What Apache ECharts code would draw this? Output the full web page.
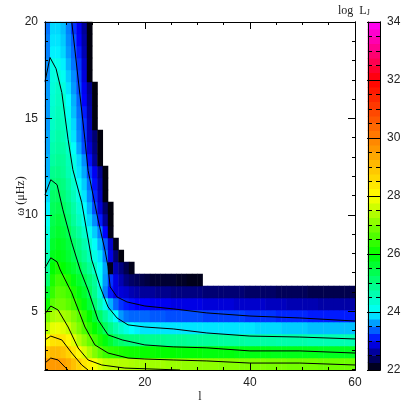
<!DOCTYPE html>
<html>
<head>
<meta charset="utf-8">
<style>
  html, body { margin: 0; padding: 0; background: #fff; }
  #main { width: 415px; height: 415px; }
</style>
<script src="https://cdn.jsdelivr.net/npm/echarts@6/dist/echarts.min.js"></script>
</head>
<body>
<div id="main"></div>
<script>
// log L per cell, bottom row first, one value per l column (missing cells stay white)
const row0 = [29.6,29.6,29.6,29.5,29.3,29,28.7,28.4,28.2,27.95,
  27.7,27.5,27.45,27.45,27.4,27.4,27.35,27.3,27.3,27.3,
  27.25,27.25,27.25,27.2,27.2,27.2,27.15,27.15,27.15,27.1,
  27.1,27.1,27.1,27.05,27.05,27.05,27.05,27,27,27,
  27,27,26.95,26.95,26.95,26.95,26.9,26.9,26.9,26.9,
  26.9,26.9,26.85,26.85,26.85,26.85,26.85,26.85,26.85]
const row1 = [28.9,29.1,29.1,28.95,28.7,28.4,28.1,27.7,27.35,27,
  26.7,26.45,26.35,26.3,26.2,26.15,26.1,26.1,26.05,26.05,
  26.05,26,26,26,26,25.95,25.95,25.95,25.95,25.95,
  25.9,25.9,25.9,25.9,25.9,25.9,25.85,25.85,25.85,25.85,
  25.85,25.85,25.85,25.8,25.8,25.8,25.8,25.8,25.8,25.8,
  25.8,25.8,25.75,25.75,25.75,25.75,25.75,25.75,25.75]
const row2 = [28.1,28.45,28.5,28.4,28.1,27.75,27.4,27.1,26.8,26.5,
  26.2,25.9,25.6,25.3,25.15,25.05,25,25,24.95,24.9,
  24.9,24.9,24.9,24.85,24.85,24.85,24.85,24.8,24.8,24.8,
  24.8,24.8,24.8,24.75,24.75,24.75,24.75,24.75,24.7,24.7,
  24.7,24.7,24.7,24.7,24.65,24.65,24.65,24.65,24.65,24.65,
  24.6,24.6,24.6,24.6,24.6,24.6,24.6,24.6,24.6]
const row3 = [27.4,27.8,27.85,27.75,27.55,27.25,26.95,26.6,26.3,26,
  25.7,25.3,24.95,24.65,24.4,24.2,24,23.95,23.9,23.9,
  23.9,23.9,23.9,23.9,23.9,23.9,23.9,23.9,23.9,23.9,
  23.9,23.9,23.9,23.9,23.9,23.9,23.9,23.9,23.9,23.9,
  23.85,23.85,23.85,23.85,23.85,23.8,23.8,23.8,23.8,23.8,
  23.75,23.75,23.75,23.75,23.75,23.75,23.75,23.75,23.75]
const row4 = [26.9,27.3,27.4,27.3,27.2,26.95,26.7,26.35,26,25.6,
  25.2,24.8,24.4,24,23.6,23.45,23.4,23.4,23.4,23.4,
  23.35,23.35,23.35,23.3,23.3,23.3,23.3,23.3,23.3,23.3,
  23.25,23.25,23.25,23.25,23.25,23.25,23.25,23.25,23.2,23.2,
  23.2,23.2,23.2,23.2,23.15,23.15,23.15,23.15,23.15,23.15,
  23.1,23.1,23.1,23.1,23.1,23.1,23.1,23.1,23.1]
const row5 = [26.1,26.7,26.85,26.85,26.7,26.5,26.2,25.9,25.55,25.1,
  24.6,24.1,23.7,23.4,23.2,23.1,23.05,23,23,23,
  22.95,22.95,22.95,22.95,22.9,22.9,22.9,22.9,22.9,22.9,
  22.85,22.85,22.85,22.85,22.85,22.85,22.8,22.8,22.8,22.8,
  22.8,22.8,22.75,22.75,22.75,22.75,22.7,22.7,22.7,22.7,
  22.7,22.7,22.65,22.65,22.65,22.65,22.65,22.65,22.65]
const row6 = [25.6,26.4,26.7,26.65,26.5,26.2,25.9,25.65,25.3,24.9,
  24.35,23.5,23.1,22.9,22.85,22.8,22.7,22.65,22.6,22.6,
  22.6,22.55,22.55,22.55,22.5,22.5,22.5,22.5,22.5,22.5,
  22.45,22.45,22.45,22.45,22.45,22.45,22.45,22.45,22.4,22.4,
  22.4,22.4,22.4,22.4,22.35,22.35,22.35,22.35,22.35,22.35,
  22.3,22.3,22.3,22.3,22.3,22.3,22.3,22.3,22.3]
const row7 = [25.1,26.2,26.5,26.4,26.2,25.9,25.65,25.4,25.1,24.8,
  24.1,23.6,23.2,22.9,22.7,22.5,22.4,22.35,22.3,22.25,
  22.2,22.2,22.2,22.2,22.2,22.15,22.15,22.1,22.1,22.1]
const row8 = [24.8,26,26.2,26,25.8,25.6,25.4,25.1,24.8,24.45,24.05,23.65,22.1,22.7,22.5,22.3,22.1]
const row9 = [24.6,25.8,25.9,25.8,25.6,25.35,25.1,24.85,24.55,24.2,23.9,23.5,22.9,22.45,22.05]
const row10 = [24.4,25.65,25.8,25.7,25.5,25.2,24.95,24.65,24.35,24.05,23.7,23.35,22.8,22.1]
const row11 = [24.25,25.5,25.65,25.55,25.35,25,24.75,24.4,24.1,23.8,23.5,23,22.1]
const row12 = [24.1,25.4,25.55,25.4,25.15,24.8,24.5,24.15,23.85,23.55,23.1,22.6,22.05]
const row13 = [23.95,25.3,25.4,25.25,25,24.7,24.35,24,23.7,23.3,22.85,22.4,22.05]
const row14 = [23.85,25.2,25.25,25.1,24.85,24.55,24.2,23.9,23.55,23.15,22.75,22.05]
const row15 = [23.8,25.05,25.1,25,24.75,24.4,24.05,23.8,23.45,23.05,22.65,22.05]
const row16 = [23.7,24.9,24.95,24.85,24.6,24.25,23.9,23.65,23.25,22.95,22.55,22.05]
const row17 = [23.7,24.75,24.85,24.8,24.55,24.2,23.85,23.55,23.05,22.6,22.05]
const row18 = [23.65,24.65,24.75,24.7,24.45,24.05,23.65,23.3,22.85,22.5,22.05]
const row19 = [23.65,24.55,24.7,24.6,24.25,23.9,23.55,23.25,22.75,22.45,22.05]
const row20 = [23.6,24.45,24.6,24.5,24.2,23.85,23.5,23.2,22.7,22.05]
const row21 = [23.6,24.4,24.55,24.45,24.1,23.75,23.45,23.1,22.65,22.05]
const row22 = [23.6,24.35,24.5,24.4,24,23.7,23.4,23,22.6,22.05]
const row23 = [23.6,24.3,24.45,24.25,23.9,23.6,23.3,22.95,22.55,22.05]
const row24 = [23.55,24.25,24.3,24.1,23.8,23.55,23.25,22.85,22.05]
const row25 = [23.55,24.2,24.15,23.95,23.7,23.45,23.2,22.8,22.05]
const row26 = [23.5,23.95,23.95,23.85,23.6,23.4,23.1,22.7,22.05]
const row27 = [23.5,23.9,23.9,23.8,23.55,23.35,23,22.65,22.05]
const row28 = [23.45,23.85,23.85,23.75,23.5,23.2,22.95,22.6,22.05]

// contour lines, [l, omega]
const contourA = [[6.1,20],[8.6,13.9],[9.2,12.3],[11.1,9.74],[12.4,8.18],[13,7.3],[13.4,6.26],[14.7,5.74],[16.6,5.48],[20,5.27],[25.4,5.12],[31.8,4.91],[40,4.75],[49.5,4.65],[60,4.49]]
const contourB = [[1,16.91],[1.95,18.16],[3.1,17.58],[4.2,16.34],[5.4,13.9],[6.3,12.34],[8,10.62],[9.9,7.66],[10.5,7.14],[11.5,6.26],[13,5.22],[14.7,4.65],[16.8,4.29],[20,4.18],[25.4,4.08],[31.8,3.87],[40,3.71],[49.5,3.66],[60,3.56]]
const contourC = [[1,11.04],[2.1,11.82],[3.3,11.56],[4.4,10.26],[6.1,8.55],[7.7,7.14],[9.2,6.1],[11.1,4.55],[13,3.77],[15.7,3.51],[20,3.25],[25.4,3.15],[31.8,3.1],[40,2.94],[49.5,2.94],[60,2.83]]
const contourD = [[1,7.25],[2.1,7.77],[3.3,7.56],[3.9,7.14],[6.1,5.95],[8.6,4.18],[10.5,3.25],[13,2.83],[16.8,2.57],[20,2.52],[25.4,2.47],[31.8,2.42],[40,2.31],[49.5,2.31],[60,2.21]]
const contourE = [[1,4.86],[1.4,5.01],[2.1,5.27],[3.5,5.06],[5.4,4.18],[7.3,3.09],[9.2,2.47],[11.8,2.21],[16.2,2.05],[26.7,1.95]]
const contourF = [[1,3.51],[2.1,3.71],[4.2,3.51],[6.1,2.83],[8,2.21],[9.2,1.95]]
const contourG = [[1,2.31],[2.1,2.57],[3.5,2.47],[4.8,2.1],[5.4,1.95]]

// colour bar bands and ticks
const barLevels = [22.125,22.375,22.625,22.875,23.125,23.375,23.625,23.875,24.125,24.375,24.625,24.875,
  25.125,25.375,25.625,25.875,26.125,26.375,26.625,26.875,27.125,27.375,27.625,27.875,
  28.125,28.375,28.625,28.875,29.125,29.375,29.625,29.875,30.125,30.375,30.625,30.875,
  31.125,31.375,31.625,31.875,32.125,32.375,32.625,32.875,33.125,33.375,33.625,33.875]
const barMajor = [22,24,26,28,30,32,34]
const barMinor = [22.5,23,23.5,24.5,25,25.5,26.5,27,27.5,28.5,29,29.5,30.5,31,31.5,32.5,33,33.5]
const barColors = ['#000000','#0000ff','#00ffff','#00ff80','#00ff00','#80ff00','#ffff00','#ffc000','#ff8000','#ff4000','#ff0000','#ff0080','#ff00ff']

const xMajor = [20,40,60]
const xMinor = [5,10,15,25,30,35,45,50,55]
const yMajor = [5,10,15,20]
const yMinor = [2,3,4,6,7,8,9,11,12,13,14,16,17,18,19]

const rows = [row0,row1,row2,row3,row4,row5,row6,row7,row8,row9,row10,row11,row12,row13,row14,
  row15,row16,row17,row18,row19,row20,row21,row22,row23,row24,row25,row26,row27,row28]

var cells = []
rows.forEach((row, r) => {
  row.forEach((v, c) => cells.push([c, r, v]))
})
var barCells = barLevels.map((v, i) => [0, i, v])

const textColor = '#222'
const sansFont = '"Liberation Sans", Arial, sans-serif'
const serifFont = '"Liberation Serif", "Times New Roman", serif'

// value axis that only carries a frame line and a set of inward ticks
function tickAxis(gridIndex, position, min, max, ticks, len, extra) {
  return Object.assign({
    type: 'value',
    gridIndex: gridIndex,
    position: position,
    min: min,
    max: max,
    z: 5,
    splitLine: { show: false },
    axisLine: { show: true, onZero: false, lineStyle: { color: '#000', width: 1 } },
    axisTick: { show: true, inside: true, length: len, customValues: ticks, lineStyle: { color: '#000', width: 1 } },
    axisLabel: { show: false }
  }, extra || {})
}

function labels(values) {
  return { show: true, customValues: values, color: textColor, fontFamily: sansFont, fontSize: 12, margin: 7 }
}

const lMin = 1, lMax = 60, wMin = 1.95, wMax = 20

var xAxes = [
  { type: 'category', gridIndex: 0, show: false, data: row0.map((_, i) => i) },
  tickAxis(0, 'bottom', lMin, lMax, xMajor, 7, {
    axisLabel: labels(xMajor),
    name: 'l', nameLocation: 'middle', nameGap: 21, nameMoveOverlap: false,
    nameTextStyle: { fontFamily: serifFont, fontSize: 12, color: textColor }
  }),
  tickAxis(0, 'bottom', lMin, lMax, xMinor, 3),
  tickAxis(0, 'top', lMin, lMax, xMajor, 7),
  tickAxis(0, 'top', lMin, lMax, xMinor, 3),
  { type: 'category', gridIndex: 1, show: false, data: [0] },
  tickAxis(1, 'bottom', 0, 1, [], 0),
  tickAxis(1, 'top', 0, 1, [], 0)
]

var yAxes = [
  { type: 'category', gridIndex: 0, show: false, data: rows.map((_, i) => i) },
  tickAxis(0, 'left', wMin, wMax, yMajor, 7, {
    axisLabel: labels(yMajor),
    name: 'ω (μHz)', nameLocation: 'middle', nameGap: 18, nameMoveOverlap: false,
    nameTextStyle: { fontFamily: serifFont, fontSize: 12, color: textColor }
  }),
  tickAxis(0, 'left', wMin, wMax, yMinor, 3),
  tickAxis(0, 'right', wMin, wMax, yMajor, 7),
  tickAxis(0, 'right', wMin, wMax, yMinor, 3),
  { type: 'category', gridIndex: 1, show: false, data: barLevels.map((_, i) => i) },
  tickAxis(1, 'right', 22, 34, barMajor, 13, { axisLabel: labels(barMajor) }),
  tickAxis(1, 'right', 22, 34, barMinor, 4),
  tickAxis(1, 'left', 22, 34, barMinor, 4)
]

function contourSeries(points) {
  return {
    type: 'line',
    xAxisIndex: 1,
    yAxisIndex: 1,
    data: points,
    symbol: 'none',
    smooth: false,
    clip: true,
    z: 3,
    silent: true,
    lineStyle: { color: '#000', width: 1 }
  }
}

var option = {
  animation: false,
  backgroundColor: '#fff',
  title: {
    text: 'log  L{j|J}',
    left: 333,
    top: 0,
    textStyle: {
      fontFamily: serifFont,
      fontSize: 12,
      fontWeight: 'normal',
      color: textColor,
      rich: { j: { fontFamily: serifFont, fontSize: 8, color: textColor, verticalAlign: 'bottom', padding: [4, 0, 0, 0] } }
    }
  },
  grid: [
    { left: 45, top: 22, width: 310, height: 348, outerBoundsMode: 'none' },
    { left: 368, top: 22, width: 12, height: 348, outerBoundsMode: 'none' }
  ],
  xAxis: xAxes,
  yAxis: yAxes,
  visualMap: {
    type: 'continuous',
    show: false,
    min: 22,
    max: 34,
    dimension: 2,
    seriesIndex: [0, 1],
    inRange: { color: barColors }
  },
  series: [
    { type: 'heatmap', xAxisIndex: 0, yAxisIndex: 0, data: cells, silent: true, z: 2 },
    { type: 'heatmap', xAxisIndex: 5, yAxisIndex: 5, data: barCells, silent: true, z: 2 },
    contourSeries(contourA),
    contourSeries(contourB),
    contourSeries(contourC),
    contourSeries(contourD),
    contourSeries(contourE),
    contourSeries(contourF),
    contourSeries(contourG)
  ]
}

var myChart = echarts.init(document.getElementById('main'), null, { renderer: 'canvas' })
option && myChart.setOption(option)
</script>
</body>
</html>
